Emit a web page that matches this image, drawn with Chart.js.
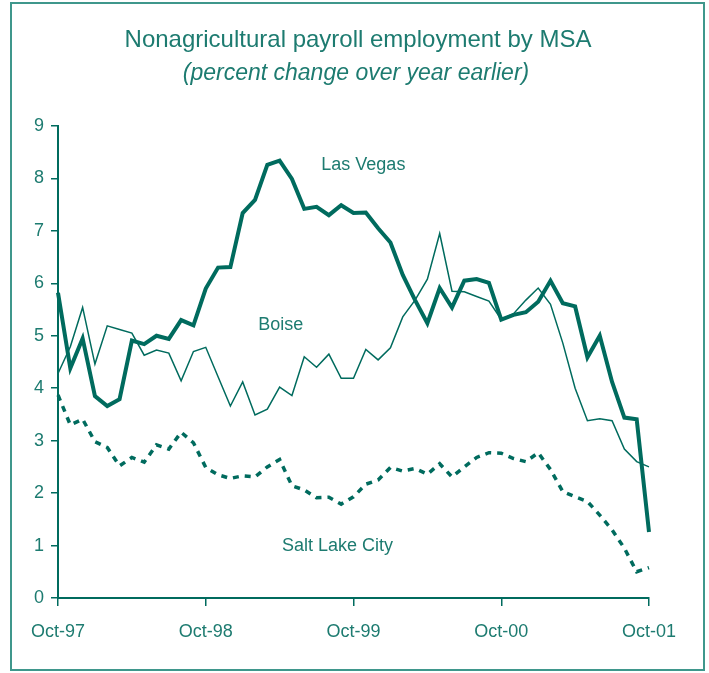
<!DOCTYPE html>
<html>
<head>
<meta charset="utf-8">
<script src="https://cdn.jsdelivr.net/npm/chart.js@4"></script>
<style>
  html, body { margin: 0; padding: 0; background: #ffffff; }
  #wrap { width: 709px; height: 673px; position: relative; }
</style>
</head>
<body>
<div id="wrap"><canvas id="c" width="709" height="673"></canvas></div>
<script>
const months = [
  "Oct-97","Nov-97","Dec-97","Jan-98","Feb-98","Mar-98","Apr-98","May-98","Jun-98","Jul-98","Aug-98","Sep-98",
  "Oct-98","Nov-98","Dec-98","Jan-99","Feb-99","Mar-99","Apr-99","May-99","Jun-99","Jul-99","Aug-99","Sep-99",
  "Oct-99","Nov-99","Dec-99","Jan-00","Feb-00","Mar-00","Apr-00","May-00","Jun-00","Jul-00","Aug-00","Sep-00",
  "Oct-00","Nov-00","Dec-00","Jan-01","Feb-01","Mar-01","Apr-01","May-01","Jun-01","Jul-01","Aug-01","Sep-01",
  "Oct-01"
];
const tickLabels = ["Oct-97","Oct-98","Oct-99","Oct-00","Oct-01"];

const lasVegas = [
  5.82, 4.38, 4.95, 3.85, 3.66, 3.79, 4.91, 4.84, 5.00, 4.94, 5.30, 5.20,
  5.90, 6.30, 6.31, 7.34, 7.59, 8.26, 8.34, 7.99, 7.42, 7.46, 7.30, 7.49,
  7.34, 7.35, 7.05, 6.78, 6.16, 5.68, 5.24, 5.91, 5.54, 6.05, 6.08, 6.01,
  5.31, 5.40, 5.45, 5.65, 6.05, 5.62, 5.56, 4.59, 5.00, 4.12, 3.44, 3.41,
  1.26
];
const boise = [
  4.28, 4.79, 5.54, 4.46, 5.19, 5.12, 5.05, 4.63, 4.73, 4.67, 4.14, 4.70,
  4.78, 4.22, 3.66, 4.12, 3.49, 3.60, 4.02, 3.86, 4.60, 4.40, 4.65, 4.19,
  4.19, 4.74, 4.54, 4.77, 5.36, 5.68, 6.08, 6.95, 5.85, 5.84, 5.75, 5.66,
  5.31, 5.42, 5.68, 5.91, 5.60, 4.86, 4.00, 3.38, 3.42, 3.38, 2.84, 2.60,
  2.50
];
const saltLakeCity = [
  3.87, 3.30, 3.41, 2.98, 2.87, 2.52, 2.68, 2.59, 2.92, 2.84, 3.16, 2.96,
  2.49, 2.35, 2.28, 2.33, 2.31, 2.50, 2.64, 2.14, 2.06, 1.91, 1.92, 1.79,
  1.93, 2.17, 2.25, 2.49, 2.42, 2.47, 2.36, 2.56, 2.31, 2.50, 2.68, 2.77,
  2.76, 2.66, 2.60, 2.77, 2.45, 2.03, 1.93, 1.84, 1.58, 1.30, 0.95, 0.50,
  0.58
];
const yTicks = [0,1,2,3,4,5,6,7,8,9];

const titleText = "Nonagricultural payroll employment by MSA";
const subtitleText = "(percent change over year earlier)";
const seriesNames = ["Las Vegas", "Boise", "Salt Lake City"];
// label anchor points in data units (month index, value)
const labelAnchors = [[24.8, 8.26], [18.1, 5.2], [22.7, 0.99]];

const LINE = '#006b5e';
const TEXT = '#1d7b70';
const FONT = '"Liberation Sans", Arial, sans-serif';

const decor = {
  id: 'decor',
  beforeDraw(chart) {
    const ctx = chart.ctx;
    ctx.save();
    ctx.fillStyle = '#ffffff';
    ctx.fillRect(0, 0, chart.width, chart.height);
    ctx.restore();
  },
  afterDraw(chart) {
    const ctx = chart.ctx;
    ctx.save();
    // frame
    ctx.strokeStyle = '#3f978c';
    ctx.lineWidth = 2;
    ctx.strokeRect(11, 3, 693, 667);
    // titles
    ctx.fillStyle = TEXT;
    ctx.textAlign = 'center';
    ctx.textBaseline = 'alphabetic';
    ctx.font = '24px ' + FONT;
    ctx.fillText(titleText, 358, 47);
    ctx.font = 'italic 23px ' + FONT;
    ctx.fillText(subtitleText, 356, 80);
    // series labels
    const xs = chart.scales.x, ys = chart.scales.y;
    ctx.font = '18px ' + FONT;
    ctx.textBaseline = 'middle';
    labelAnchors.forEach((a, i) => {
      ctx.fillText(seriesNames[i], xs.getPixelForValue(a[0]), ys.getPixelForValue(a[1]));
    });
    ctx.restore();
  }
};

new Chart(document.getElementById('c'), {
  type: 'line',
  data: {
    labels: months,
    datasets: [
      { label: seriesNames[0], data: lasVegas, borderColor: LINE, borderWidth: 4, pointRadius: 0, tension: 0, fill: false },
      { label: seriesNames[1], data: boise, borderColor: LINE, borderWidth: 1.5, pointRadius: 0, tension: 0, fill: false },
      { label: seriesNames[2], data: saltLakeCity, borderColor: LINE, borderWidth: 3.5, borderDash: [6, 6], pointRadius: 0, tension: 0, fill: false }
    ]
  },
  options: {
    responsive: false,
    animation: false,
    layout: { padding: { top: 126, right: 60, left: 0, bottom: 0 } },
    plugins: { legend: { display: false }, tooltip: { enabled: false }, title: { display: false } },
    scales: {
      x: {
        offset: false,
        afterFit(scale) { scale.height = 75; },
        border: { display: true, color: LINE, width: 2 },
        grid: {
          drawOnChartArea: false, drawTicks: true, tickLength: 8,
          color: (c) => (c.index % 12 === 0 ? LINE : 'rgba(0,0,0,0)'), lineWidth: 1.5
        },
        ticks: {
          autoSkip: false, maxRotation: 0, color: TEXT, padding: 15,
          font: { family: FONT, size: 18 },
          callback: function (v, i) { return tickLabels.includes(months[i]) ? months[i] : ''; }
        }
      },
      y: {
        min: 0, max: 9,
        afterFit(scale) { scale.width = 58; },
        afterBuildTicks(scale) { scale.ticks = yTicks.map(v => ({ value: v })); },
        border: { display: true, color: LINE, width: 2 },
        grid: { drawOnChartArea: false, drawTicks: true, tickLength: 7, color: LINE, lineWidth: 1.5 },
        ticks: { color: TEXT, padding: 7, font: { family: FONT, size: 18 } }
      }
    }
  },
  plugins: [decor]
});
</script>
</body>
</html>
